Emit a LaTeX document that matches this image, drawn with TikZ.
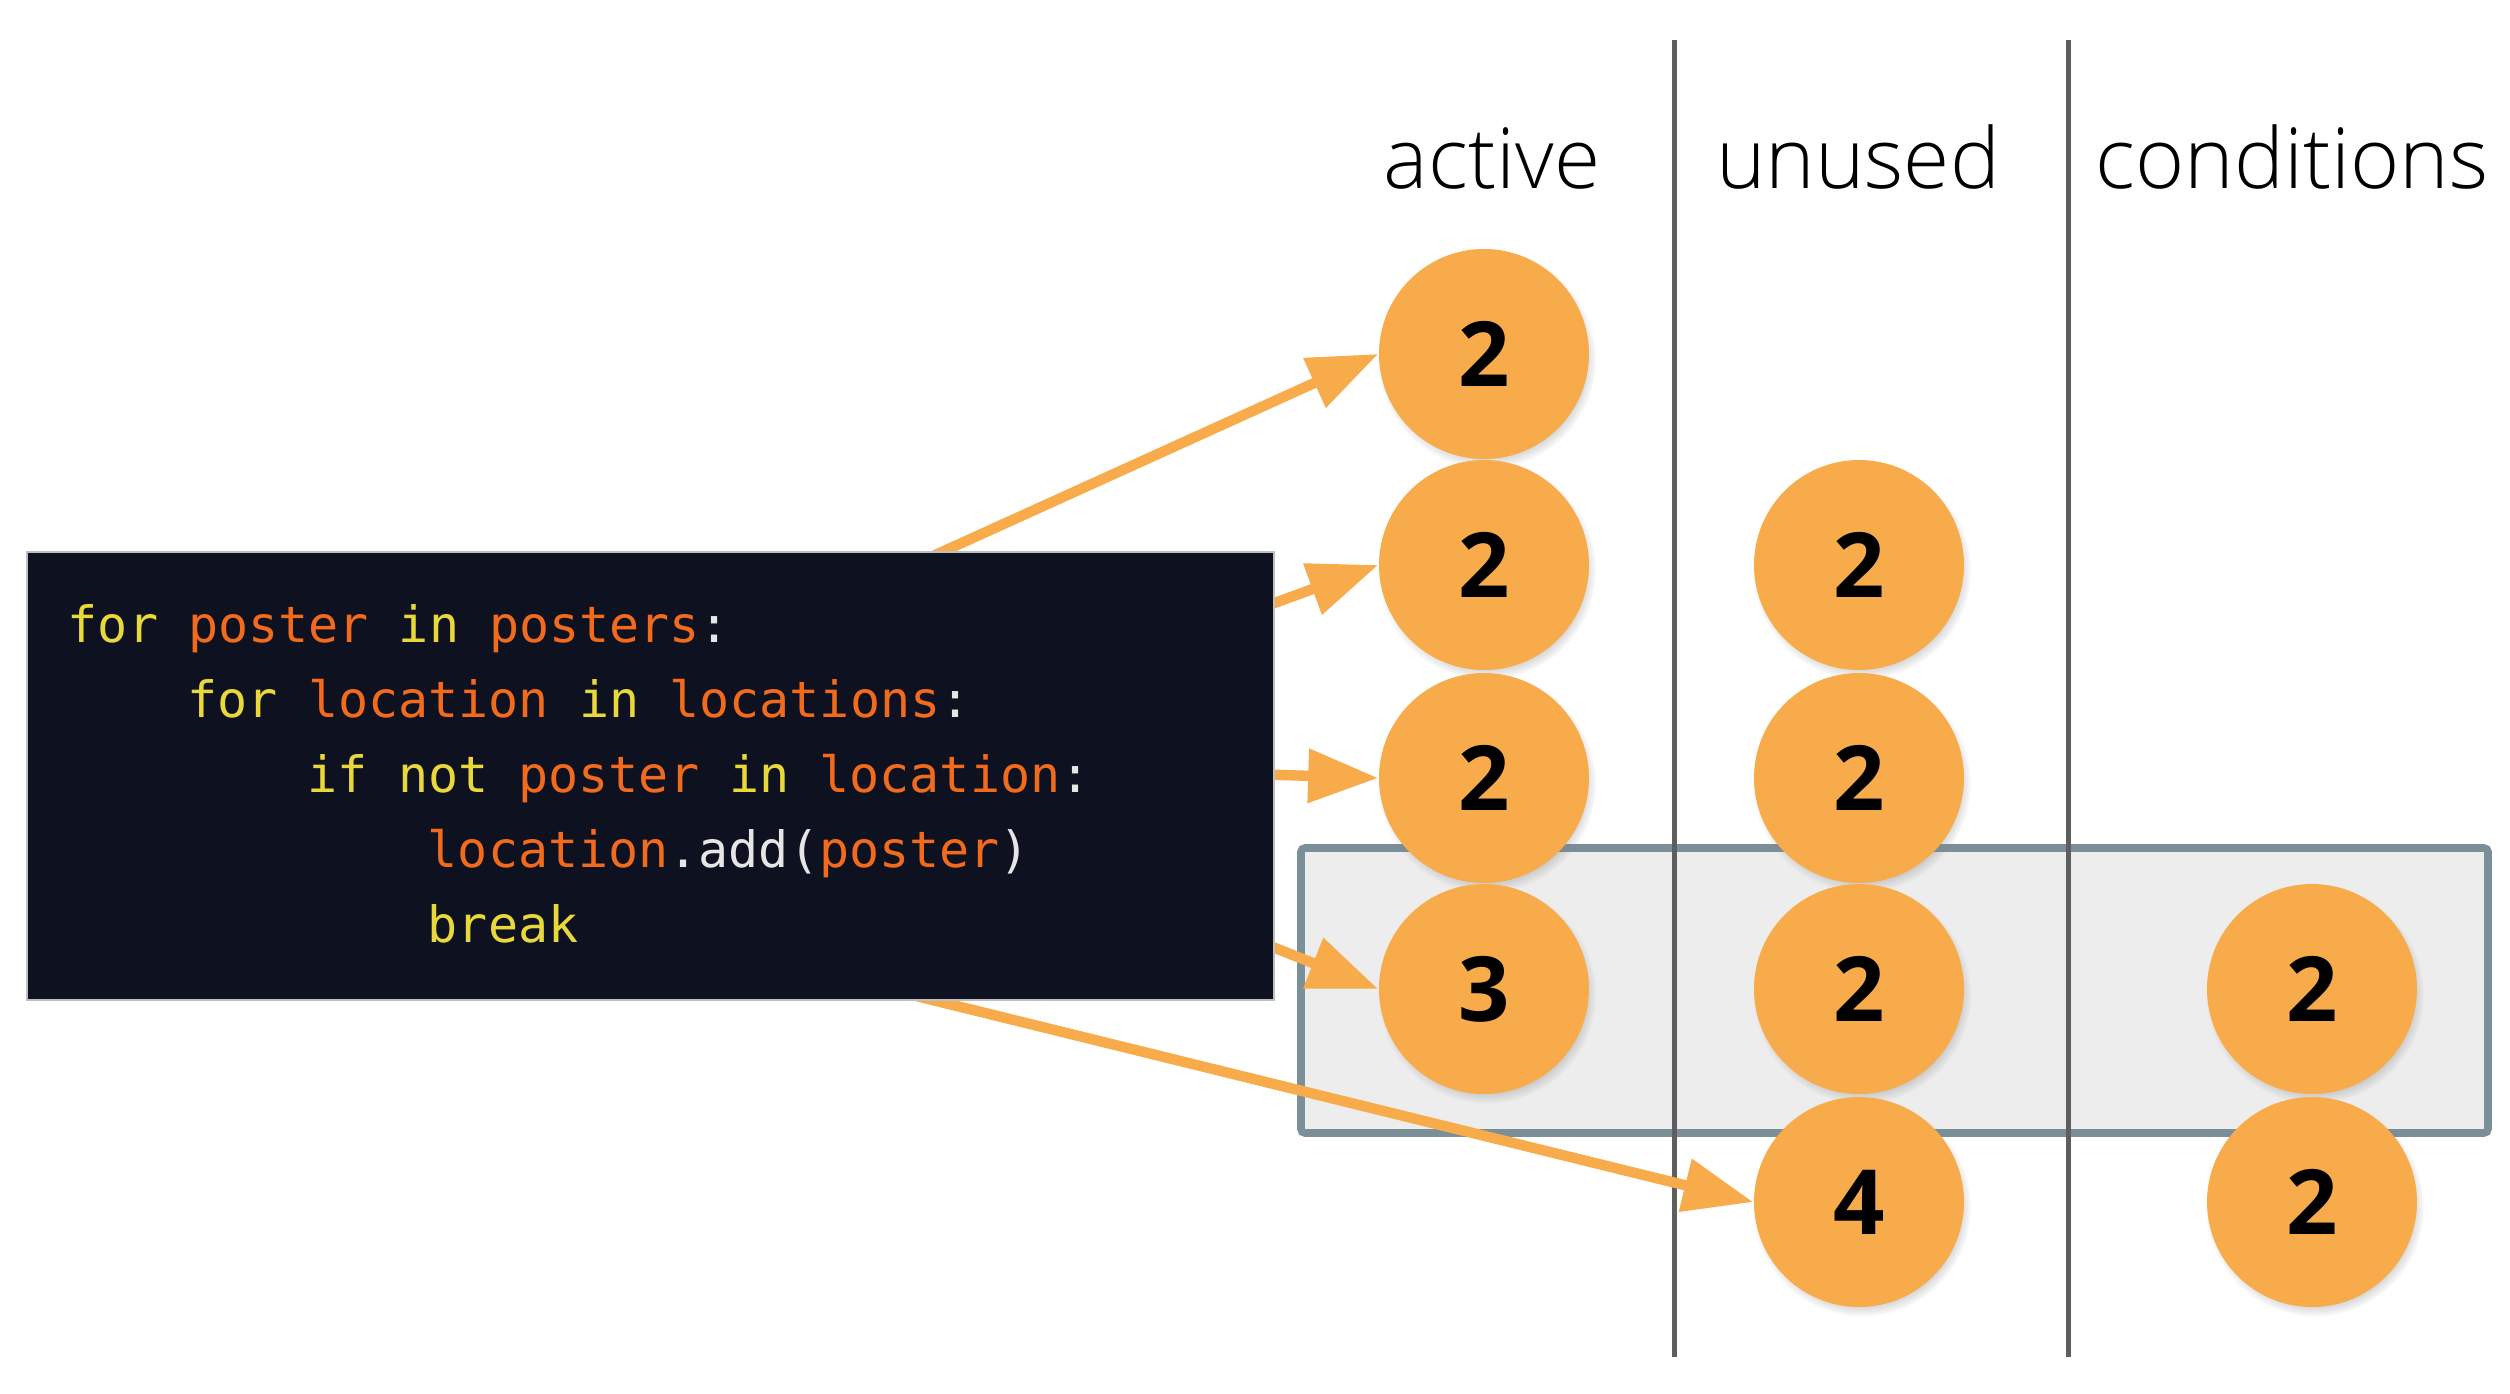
\documentclass[tikz,border=0pt]{standalone}
\usepackage{fontspec}
\newfontfamily\hdrfont{Open Sans Light}
\newfontfamily\numfont{Open Sans}
\newfontfamily\codefont{DejaVu Sans Mono}
\usetikzlibrary{arrows.meta,shadows}
\definecolor{circ}{HTML}{F8AB4A}
\definecolor{codebg}{HTML}{0E1120}
\definecolor{kw}{HTML}{E8D83A}
\definecolor{idn}{HTML}{F26B1D}
\definecolor{pun}{HTML}{E6E6E6}
\definecolor{boxfill}{HTML}{EDEDED}
\definecolor{boxline}{HTML}{7B8F98}
\definecolor{sep}{HTML}{5E5E5E}
\begin{document}
\begin{tikzpicture}[x=0.25pt,y=-0.25pt,
  ball/.style={circle, fill=circ, minimum size=52.5pt, inner sep=0pt,
    font=\numfont\bfseries\fontsize{22.5}{22.5}\selectfont,
    circular drop shadow={shadow scale=1.04, shadow xshift=0.7pt, shadow yshift=-1.3pt, opacity=0.45}},
  hdr/.style={font=\hdrfont\fontsize{21}{21}\selectfont, inner sep=0pt, anchor=base},
  codeline/.style={font=\codefont\fontsize{12.5}{12.5}\selectfont, inner sep=0pt, anchor=base west},
  arr/.style={draw=circ, line width=2.6pt, -{Triangle[length=17.5pt,width=13pt]}},
  sepline/.style={draw=sep, line width=1.25pt},
]
\useasboundingbox (0,0) rectangle (2510,1394);
\fill[white] (0,0) rectangle (2510,1394);

% highlighted row
\node[draw=boxline, line width=1.9pt, fill=boxfill, rounded corners=1pt,
      minimum width=296.75pt, minimum height=71.25pt, inner sep=0pt] (hl) at (1894.5,990.5) {};

% column separators
\coordinate (sa1) at (1674,40); \coordinate (sa2) at (1674,1357);
\coordinate (sb1) at (2068,40); \coordinate (sb2) at (2068,1357);
\draw[sepline] (sa1) -- (sa2);
\draw[sepline] (sb1) -- (sb2);

% headers
\node[hdr] (hA) at (1492,188) {active};
\node[hdr] (hU) at (1858,188) {unused};
\node[hdr] (hC) at (2292,188) {conditions};

% circles
\node[ball] (a1) at (1484,354) {2};
\node[ball] (a2) at (1484,565) {2};
\node[ball] (u2) at (1859,565) {2};
\node[ball] (a3) at (1484,778) {2};
\node[ball] (u3) at (1859,778) {2};
\node[ball] (a4) at (1484,989) {3};
\node[ball] (u4) at (1859,989) {2};
\node[ball] (c4) at (2312,989) {2};
\node[ball] (u5) at (1859,1202) {4};
\node[ball] (c5) at (2312,1202) {2};

% arrows (start hidden behind the code box)
\coordinate (s1) at (900,571);
\coordinate (s2) at (1250,612);
\coordinate (s3) at (1250,774);
\coordinate (s4) at (1250,938);
\coordinate (s5) at (900,992);
\draw[arr] (s1) -- (a1.west);
\draw[arr] (s2) -- (a2.west);
\draw[arr] (s3) -- (a3.west);
\draw[arr] (s4) -- (a4.west);
\draw[arr] (s5) -- (u5.west);

% code box
\node[fill=codebg, draw=gray!50, line width=0.3pt, minimum width=311.75pt, minimum height=112pt, inner sep=0pt] (code) at (650.5,776) {};
\node[codeline] (l1) at (67,642) {\color{kw}for \color{idn}poster \color{kw}in \color{idn}posters\color{pun}:};
\node[codeline] (l2) at (187,717) {\color{kw}for \color{idn}location \color{kw}in \color{idn}locations\color{pun}:};
\node[codeline] (l3) at (307,792) {\color{kw}if not \color{idn}poster \color{kw}in \color{idn}location\color{pun}:};
\node[codeline] (l4) at (427,867) {\color{idn}location\color{pun}.add(\color{idn}poster\color{pun})};
\node[codeline] (l5) at (427,942) {\color{kw}break};
\end{tikzpicture}
\end{document}
